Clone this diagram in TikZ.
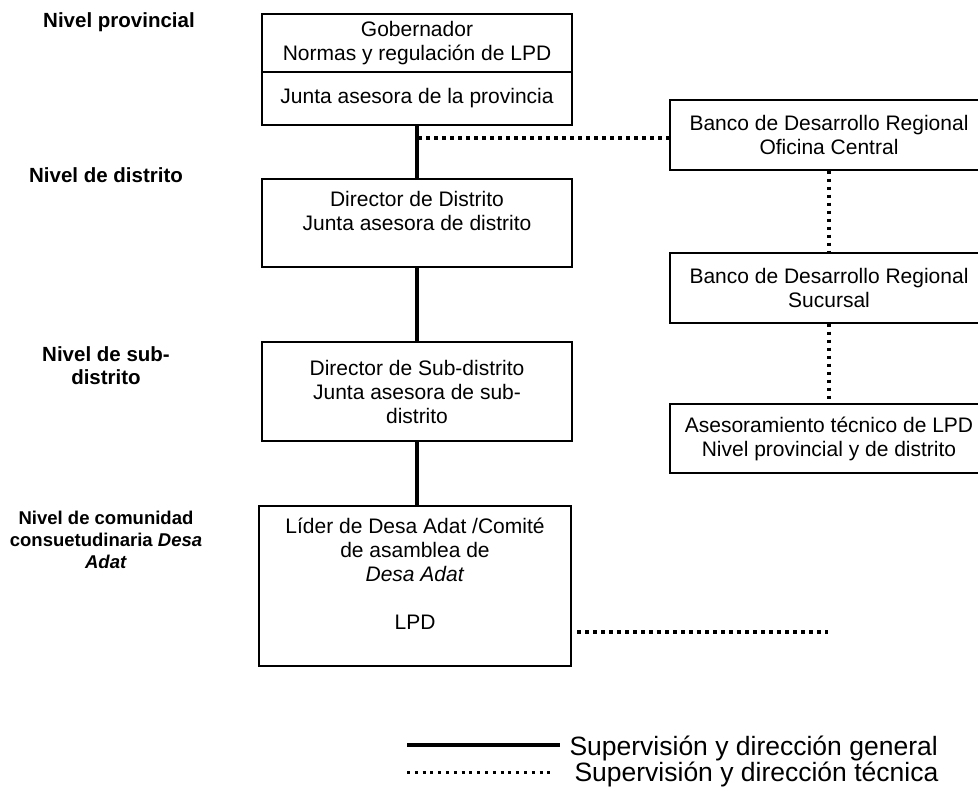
\documentclass[tikz,border=0pt]{standalone}
\usepackage{fontspec}
\setmainfont{Liberation Sans}

\begin{document}
\begin{tikzpicture}[x=1pt,y=-1pt,
  caja/.style={draw,line width=1.4pt,align=center,inner sep=0pt,
    font=\fontsize{21}{24}\selectfont},
  nivel/.style={align=center,font=\fontsize{20.5}{23}\selectfont\bfseries},
  leyenda/.style={anchor=base west,font=\fontsize{26.5}{28}\selectfont},
  general/.style={line width=3.5pt},
  tecnica/.style={line width=3.5pt,dash pattern=on 3.5pt off 4.5pt}]

\useasboundingbox (0,0) rectangle (978,788);

% niveles
\node [nivel] (nprov) at (119,22) {Nivel provincial};
\node [nivel] (ndist) at (106,175) {Nivel de distrito};
\node [nivel] (nsub) at (106,366) {Nivel de sub-\\distrito};
\node [nivel,font=\fontsize{18.5}{22}\selectfont\bfseries] (ncom) at (106,540)
  {Nivel de comunidad\\consuetudinaria \textit{Desa}\\\textit{Adat}};

% cajas de la izquierda
\node [caja,minimum width=310,minimum height=58] (gob) at (417,43)
  {Gobernador\\Normas y regulación de LPD};
\node [caja,minimum width=310,minimum height=53] (junta) at (417,98.5)
  {Junta asesora de la provincia};
\node [caja,minimum width=310,minimum height=88] (dist) at (417,223)
  {Director de Distrito\\Junta asesora de distrito\\\mbox{}};
\node [caja,minimum width=310,minimum height=99] (sub) at (417,391.5)
  {Director de Sub-distrito\\Junta asesora de sub-\\distrito};
\node [caja,minimum width=312,minimum height=160] (lider) at (415,586)
  {Líder de Desa Adat /Comité\\de asamblea de\\\textit{Desa Adat}\\\mbox{}\\LPD\\\mbox{}};

% cajas de la derecha
\node [caja,minimum width=318,minimum height=70] (bco) at (829,135)
  {Banco de Desarrollo Regional\\Oficina Central};
\node [caja,minimum width=318,minimum height=70] (suc) at (829,288)
  {Banco de Desarrollo Regional\\Sucursal};
\node [caja,minimum width=318,minimum height=69] (ases) at (829,438.5)
  {Asesoramiento técnico de LPD\\Nivel provincial y de distrito};

% supervision general
\draw [general] (junta.south) -- (dist.north);
\draw [general] (dist.south) -- (sub.north);
\draw [general] (sub.south) -- (sub.south |- lider.north);

% supervision tecnica
\coordinate (tap) at (418,138);
\draw [tecnica] (tap) -- (tap -| bco.west);
\draw [tecnica] (bco.south) -- (suc.north);
\draw [tecnica] (suc.south) -- (ases.north);
\coordinate (lpdA) at (577,632);
\coordinate (lpdB) at (828,632);
\draw [tecnica,line width=3.2pt] (lpdA) -- (lpdB);

% leyenda
\coordinate (lgA) at (407,745);
\coordinate (lgB) at (560,745);
\coordinate (lgC) at (407,772);
\coordinate (lgD) at (555,772);
\draw [general,line width=3.3pt] (lgA) -- (lgB);
\draw [tecnica,line width=3pt,dash pattern=on 3pt off 4.8pt] (lgC) -- (lgD);
\node [leyenda] (lgen) at (566,755) {Supervisión y dirección general};
\node [leyenda] (ltec) at (571,781) {Supervisión y dirección técnica};
\end{tikzpicture}
\end{document}
